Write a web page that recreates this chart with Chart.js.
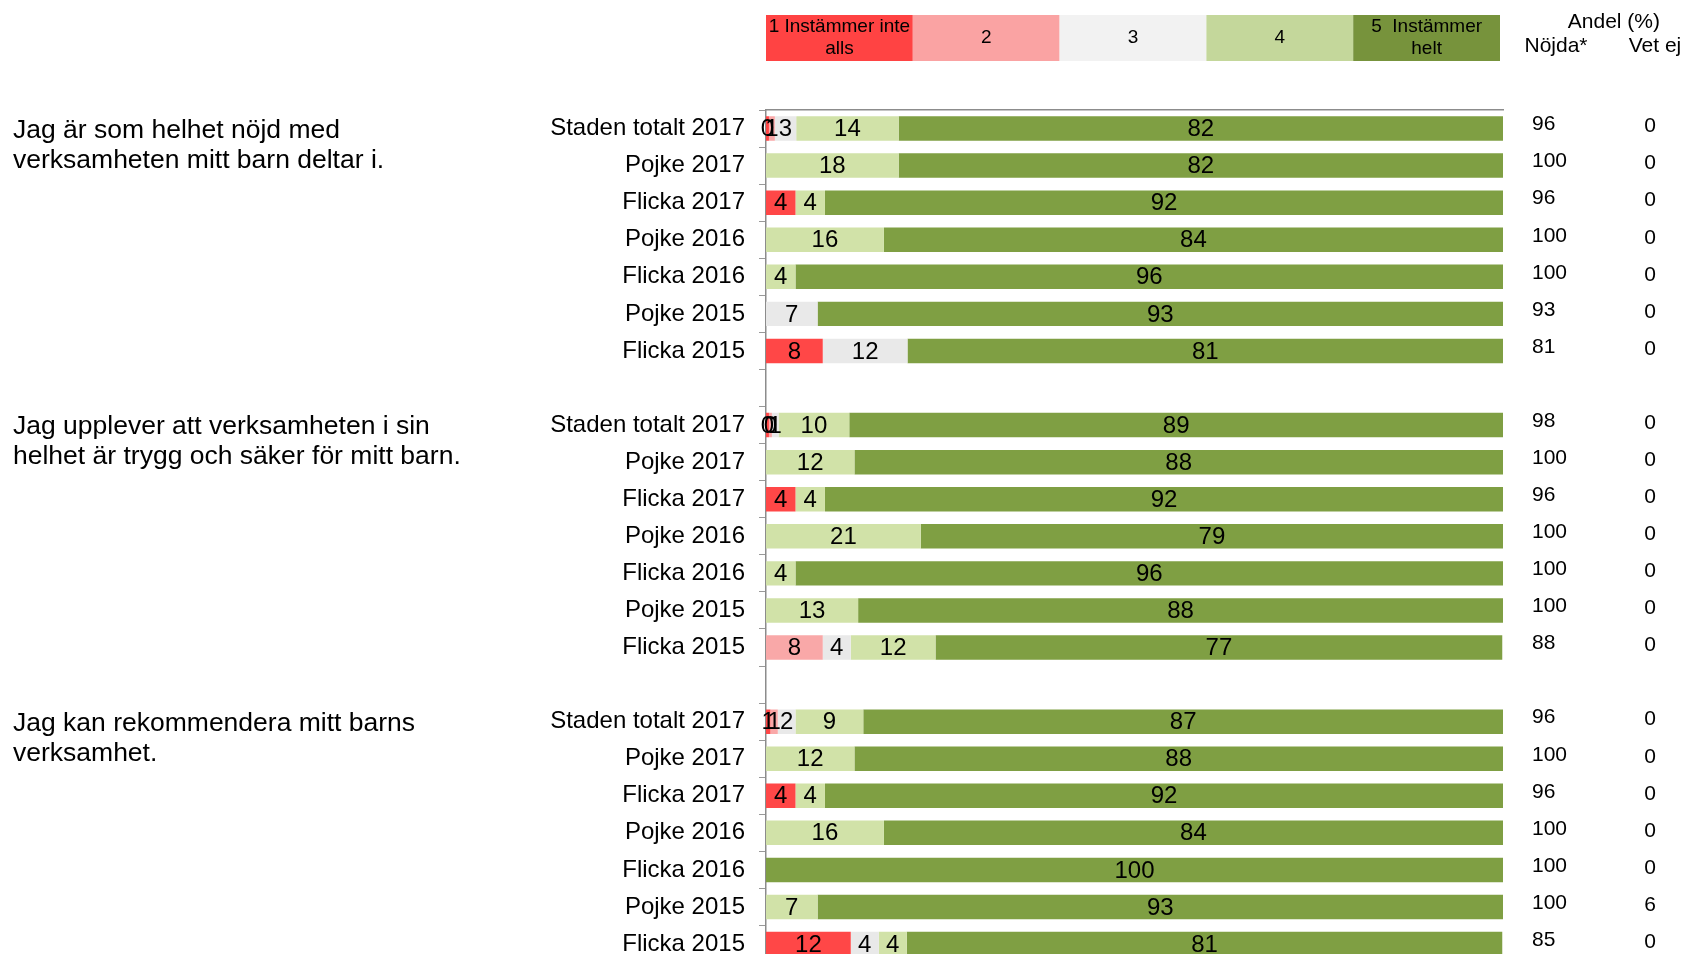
<!DOCTYPE html>
<html>
<head>
<meta charset="utf-8">
<script src="https://cdn.jsdelivr.net/npm/chart.js@4"></script>
<style>
  body { margin: 0; overflow: hidden; background: #fff; }
  canvas { display: block; }
</style>
</head>
<body>
<canvas id="staplar" width="1683" height="991"></canvas>
<script>
const kategorier = [
    'Staden totalt 2017', 'Pojke 2017', 'Flicka 2017', 'Pojke 2016', 'Flicka 2016', 'Pojke 2015', 'Flicka 2015', '',
    'Staden totalt 2017', 'Pojke 2017', 'Flicka 2017', 'Pojke 2016', 'Flicka 2016', 'Pojke 2015', 'Flicka 2015', '',
    'Staden totalt 2017', 'Pojke 2017', 'Flicka 2017', 'Pojke 2016', 'Flicka 2016', 'Pojke 2015', 'Flicka 2015'
];

// andel per svarsalternativ 1..5 (null = tom rad mellan frågorna)
const svar1 = [0.4, 0, 4, 0, 0, 0, 7.7, null, 0.4, 0, 4, 0, 0, 0, 0, null, 0.6, 0, 4, 0, 0, 0, 11.5];
const svar2 = [0.8, 0, 0, 0, 0, 0, 0, null, 0.4, 0, 0, 0, 0, 0, 7.7, null, 1.0, 0, 0, 0, 0, 0, 0];
const svar3 = [2.9, 0, 0, 0, 0, 7, 11.5, null, 0.9, 0, 0, 0, 0, 0, 3.8, null, 2.4, 0, 0, 0, 0, 0, 3.8];
const svar4 = [13.9, 18, 4, 16, 4, 0, 0, null, 9.6, 12, 4, 21, 4, 12.5, 11.5, null, 9.2, 12, 4, 16, 0, 7, 3.8];
const svar5 = [82, 82, 92, 84, 96, 93, 80.8, null, 88.7, 88, 92, 79, 96, 87.5, 76.9, null, 86.8, 88, 92, 84, 100, 93, 80.8];

const nojda = [96, 100, 96, 100, 100, 93, 81, null, 98, 100, 96, 100, 100, 100, 88, null, 96, 100, 96, 100, 100, 100, 85];
const vetEj = [0, 0, 0, 0, 0, 0, 0, null, 0, 0, 0, 0, 0, 0, 0, null, 0, 0, 0, 0, 0, 6, 0];

const fragor = [
    ['Jag är som helhet nöjd med', 'verksamheten mitt barn deltar i.'],
    ['Jag upplever att verksamheten i sin', 'helhet är trygg och säker för mitt barn.'],
    ['Jag kan rekommendera mitt barns', 'verksamhet.']
];
const fragaRad = [0, 8, 16];

const skalText = [['1 Instämmer inte', 'alls'], ['2'], ['3'], ['4'], ['5  Instämmer', 'helt']];
const skalFarger = ['#FF4343', '#FAA3A3', '#F2F2F2', '#C4D79B', '#77933C'];
const stapelFarger = ['#FF4747', '#F9A8A8', '#E9E9E9', '#D1E2A8', '#7F9F43'];

const FONT = "'Liberation Sans', Arial, sans-serif";

const extraText = {
    id: 'extraText',
    afterDatasetsDraw(chart) {
        const c = chart.ctx;
        const y = chart.scales.y;
        const area = chart.chartArea;
        c.save();
        c.fillStyle = '#000';
        c.textBaseline = 'middle';

        // siffror i staplarna
        c.font = '24px ' + FONT;
        c.textAlign = 'center';
        chart.data.datasets.forEach((ds, i) => {
            chart.getDatasetMeta(i).data.forEach((bar, j) => {
                const v = ds.data[j];
                if (!v) return;
                const p = bar.getCenterPoint();
                c.fillText(Math.round(v), p.x, p.y + 1);
            });
        });

        // Nöjda / Vet ej
        c.font = '21px ' + FONT;
        nojda.forEach((v, j) => {
            if (v === null) return;
            const py = y.getPixelForValue(j);
            c.textAlign = 'left';
            c.fillText(v, 1532, py - 4);
            c.textAlign = 'center';
            c.fillText(vetEj[j], 1650, py - 2);
        });
        c.textAlign = 'right';
        c.fillText('Andel (%)', 1660, 22);
        c.textAlign = 'center';
        c.fillText('Nöjda*', 1556, 46);
        c.fillText('Vet ej', 1655, 46);

        // frågetexter
        c.font = '26.5px ' + FONT;
        c.textAlign = 'left';
        fragor.forEach((rader, k) => {
            const py = y.getPixelForValue(fragaRad[k]);
            rader.forEach((t, r) => c.fillText(t, 13, py + 2 + r * 30));
        });

        // skala överst
        const bredd = (area.right - area.left - 3) / 5;
        c.font = '19px ' + FONT;
        skalText.forEach((rader, k) => {
            const x0 = area.left + k * bredd;
            c.fillStyle = skalFarger[k];
            c.fillRect(x0, 15, bredd, 46);
            c.fillStyle = '#000';
            c.textAlign = 'center';
            if (rader.length === 1) {
                c.fillText(rader[0], x0 + bredd / 2, 38);
            } else {
                c.fillText(rader[0], x0 + bredd / 2, 27);
                c.fillText(rader[1], x0 + bredd / 2, 49);
            }
        });
        c.restore();
    }
};

function staplar() {
    const ctx = document.getElementById('staplar');
    const serier = [svar1, svar2, svar3, svar4, svar5];

    new Chart(ctx, {
        type: 'bar',
        data: {
            labels: kategorier,
            datasets: serier.map((d, i) => ({
                label: skalText[i].join(' '),
                data: d,
                backgroundColor: stapelFarger[i],
                categoryPercentage: 0.66,
                barPercentage: 1
            }))
        },
        options: {
            indexAxis: 'y',
            responsive: false,
            animation: false,
            layout: { padding: { left: 0, right: 180, top: 0, bottom: 0 } },
            scales: {
                x: {
                    stacked: true,
                    min: 0,
                    max: 100,
                    position: 'top',
                    ticks: { display: false },
                    grid: { display: false },
                    border: { color: '#8c8c8c', width: 1.5 },
                    afterFit: s => { s.height = 110; }
                },
                y: {
                    stacked: true,
                    ticks: { color: '#000', font: { size: 24, family: FONT }, padding: 14 },
                    grid: { drawOnChartArea: false, tickLength: 7, color: '#999', offset: true },
                    border: { color: '#8c8c8c', width: 1.5 },
                    afterFit: s => { s.width = 766; }
                }
            },
            plugins: {
                legend: { display: false },
                tooltip: { enabled: false }
            }
        },
        plugins: [extraText]
    });
}

staplar();
</script>
</body>
</html>
